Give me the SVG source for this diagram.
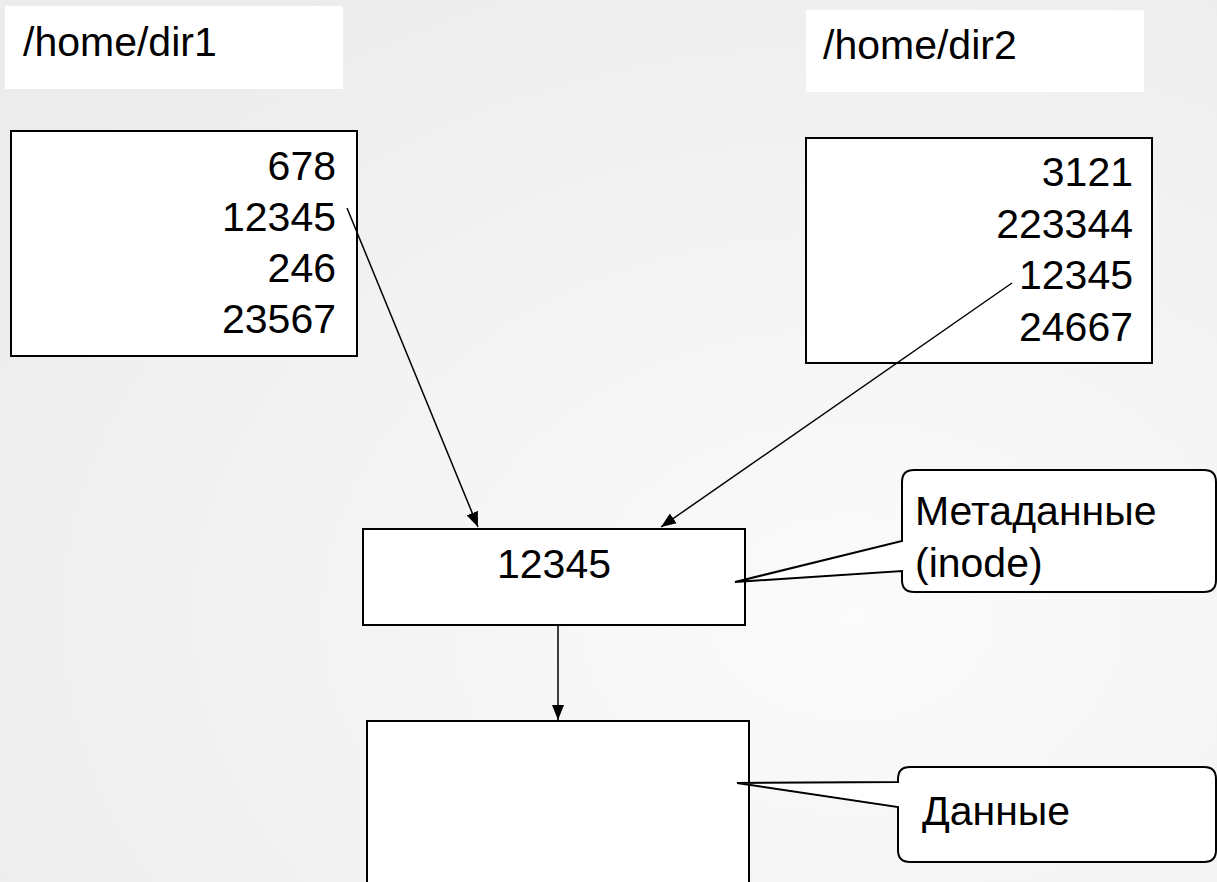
<svg xmlns="http://www.w3.org/2000/svg" width="1217" height="882" viewBox="0 0 1217 882">
<defs>
<radialGradient id="bg" cx="0.7" cy="0.7" r="0.85">
<stop offset="0" stop-color="#fbfbfb"/>
<stop offset="1" stop-color="#ececec"/>
</radialGradient>
<marker id="arr" markerUnits="userSpaceOnUse" markerWidth="16" markerHeight="12" refX="15" refY="6" orient="auto">
<path d="M0,0 L15,6 L0,12 Z" fill="#000"/>
</marker>
</defs>
<style>
.t{font-family:"Liberation Sans",Arial,sans-serif;font-size:41px;fill:#000}
.box{fill:#fff;stroke:#000;stroke-width:2}
.lbl{fill:#fff}
.con{stroke:#000;stroke-width:1.5;fill:none}
.call{fill:#fff;stroke:#000;stroke-width:2}
</style>
<rect width="1217" height="882" fill="url(#bg)"/>
<g id="label-dir1">
<rect class="lbl" x="5" y="6" width="338" height="83"/>
<text class="t" x="23" y="56">/home/dir1</text>
</g>
<g id="label-dir2">
<rect class="lbl" x="806" y="10" width="338" height="82"/>
<text class="t" x="823" y="59">/home/dir2</text>
</g>
<g id="dir1">
<rect class="box" x="11" y="131" width="346" height="225"/>
<text class="t" text-anchor="end" x="336" y="180">678</text>
<text class="t" text-anchor="end" x="336" y="231">12345</text>
<text class="t" text-anchor="end" x="336" y="282">246</text>
<text class="t" text-anchor="end" x="336" y="333">23567</text>
</g>
<g id="dir2">
<rect class="box" x="806" y="138" width="346" height="225"/>
<text class="t" text-anchor="end" x="1133" y="186">3121</text>
<text class="t" text-anchor="end" x="1133" y="238">223344</text>
<text class="t" text-anchor="end" x="1133" y="289">12345</text>
<text class="t" text-anchor="end" x="1133" y="341">24667</text>
</g>
<g id="inode">
<rect class="box" x="363" y="529" width="382" height="96"/>
<text class="t" text-anchor="middle" x="554" y="578">12345</text>
</g>
<g id="data">
<rect class="box" x="367" y="721" width="382" height="200"/>
</g>
<g id="connectors">
<line class="con" x1="347" y1="208" x2="478" y2="527" marker-end="url(#arr)"/>
<line class="con" x1="1012" y1="283" x2="661" y2="527" marker-end="url(#arr)"/>
<line class="con" x1="558" y1="626" x2="558" y2="720" marker-end="url(#arr)"/>
</g>
<g id="callout-meta">
<path class="call" d="M914,470 H1204 Q1216,470 1216,482 V580 Q1216,592 1204,592 H914 Q902,592 902,580 V571 L735,582 L902,541 V482 Q902,470 914,470 Z"/>
<text class="t" x="915" y="525">Метаданные</text>
<text class="t" x="915" y="577">(inode)</text>
</g>
<g id="callout-data">
<path class="call" d="M910,767 H1204 Q1216,767 1216,779 V850 Q1216,862 1204,862 H910 Q898,862 898,850 V807 L737,783 L898,782 V779 Q898,767 910,767 Z"/>
<text class="t" x="922" y="825">Данные</text>
</g>
</svg>
